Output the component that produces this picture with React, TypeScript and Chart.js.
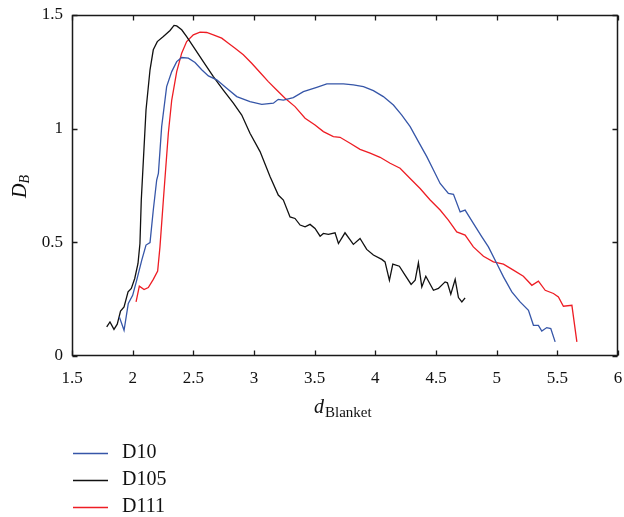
import React, { useEffect, useRef } from 'react';
import { Chart, registerables } from 'chart.js';

Chart.register(...registerables);

const xTicks = [1.5, 2, 2.5, 3, 3.5, 4, 4.5, 5, 5.5, 6];
const yTicks = [0, 0.5, 1, 1.5];
const seriesLabels = ['D10', 'D105', 'D111'];
const seriesColors = ['#3656a8', '#111111', '#ee1d24'];

const d10: [number, number][] = [
  [1.89, 0.172], [1.929, 0.113], [1.964, 0.231], [2.0, 0.267], [2.033, 0.333], [2.075, 0.422],
  [2.11, 0.488], [2.143, 0.499], [2.17, 0.642], [2.198, 0.774], [2.212, 0.803], [2.239, 1.009],
  [2.28, 1.185], [2.322, 1.251], [2.363, 1.295], [2.404, 1.313], [2.459, 1.31], [2.514, 1.291],
  [2.569, 1.259], [2.624, 1.232], [2.693, 1.215], [2.775, 1.178], [2.858, 1.141], [2.967, 1.119],
  [3.064, 1.107], [3.16, 1.112], [3.2, 1.129], [3.242, 1.126], [3.324, 1.137], [3.407, 1.163],
  [3.517, 1.182], [3.6, 1.197], [3.709, 1.197], [3.737, 1.197], [3.819, 1.193], [3.902, 1.185],
  [3.984, 1.167], [4.066, 1.141], [4.149, 1.104], [4.218, 1.06], [4.287, 1.009], [4.355, 0.943],
  [4.424, 0.877], [4.479, 0.818], [4.534, 0.759], [4.602, 0.715], [4.644, 0.711], [4.699, 0.634],
  [4.74, 0.642], [4.808, 0.583], [4.878, 0.524], [4.932, 0.48], [5.001, 0.407], [5.056, 0.348],
  [5.125, 0.282], [5.193, 0.238], [5.262, 0.201], [5.303, 0.135], [5.344, 0.135], [5.372, 0.11],
  [5.413, 0.125], [5.446, 0.121], [5.482, 0.062],
];

const d105: [number, number][] = [
  [1.786, 0.128], [1.813, 0.15], [1.846, 0.117], [1.873, 0.14], [1.9, 0.198], [1.929, 0.216],
  [1.962, 0.282], [1.989, 0.297], [2.017, 0.341], [2.044, 0.407], [2.06, 0.495], [2.071, 0.686],
  [2.11, 1.082], [2.143, 1.259], [2.17, 1.347], [2.203, 1.383], [2.253, 1.405], [2.308, 1.432],
  [2.341, 1.454], [2.363, 1.452], [2.404, 1.435], [2.445, 1.405], [2.5, 1.361], [2.582, 1.295],
  [2.665, 1.229], [2.747, 1.17], [2.83, 1.112], [2.899, 1.06], [2.967, 0.98], [3.05, 0.899],
  [3.132, 0.79], [3.2, 0.708], [3.242, 0.686], [3.297, 0.612], [3.338, 0.605], [3.38, 0.576],
  [3.421, 0.568], [3.462, 0.579], [3.503, 0.561], [3.545, 0.527], [3.572, 0.539], [3.613, 0.535],
  [3.668, 0.542], [3.696, 0.495], [3.75, 0.542], [3.819, 0.491], [3.874, 0.517], [3.929, 0.469],
  [3.984, 0.444], [4.053, 0.425], [4.08, 0.414], [4.116, 0.333], [4.144, 0.404], [4.198, 0.395],
  [4.245, 0.356], [4.295, 0.315], [4.328, 0.333], [4.355, 0.41], [4.383, 0.304], [4.416, 0.351],
  [4.479, 0.289], [4.52, 0.297], [4.575, 0.326], [4.594, 0.322], [4.622, 0.272], [4.658, 0.337],
  [4.685, 0.257], [4.713, 0.238], [4.74, 0.256],
];

const d111: [number, number][] = [
  [2.028, 0.238], [2.055, 0.307], [2.094, 0.292], [2.129, 0.301], [2.17, 0.337], [2.206, 0.374],
  [2.225, 0.48], [2.253, 0.686], [2.294, 0.98], [2.322, 1.126], [2.363, 1.251], [2.404, 1.332],
  [2.445, 1.383], [2.5, 1.413], [2.555, 1.425], [2.61, 1.423], [2.665, 1.413], [2.734, 1.398],
  [2.789, 1.376], [2.844, 1.354], [2.912, 1.325], [2.981, 1.288], [3.05, 1.247], [3.118, 1.207],
  [3.187, 1.17], [3.256, 1.134], [3.338, 1.097], [3.421, 1.046], [3.503, 1.016], [3.572, 0.987],
  [3.654, 0.965], [3.709, 0.962], [3.792, 0.936], [3.874, 0.909], [3.957, 0.892], [4.039, 0.874],
  [4.122, 0.848], [4.204, 0.826], [4.287, 0.781], [4.369, 0.737], [4.452, 0.686], [4.534, 0.642],
  [4.602, 0.598], [4.671, 0.546], [4.74, 0.532], [4.808, 0.48], [4.891, 0.439], [4.973, 0.414],
  [5.056, 0.404], [5.138, 0.378], [5.22, 0.351], [5.29, 0.311], [5.344, 0.329], [5.4, 0.289],
  [5.468, 0.275], [5.509, 0.26], [5.55, 0.219], [5.62, 0.223], [5.661, 0.062],
];

const seriesData = [d10, d105, d111];

const FONT = '"Liberation Serif", "Times New Roman", serif';
const TEXT = '#111111';

const framePlugin = {
  id: 'framePlugin',
  afterDraw(chart: any) {
    const { ctx, chartArea: a, scales } = chart;
    ctx.save();
    ctx.setLineDash([]);
    ctx.globalAlpha = 1;
    ctx.strokeStyle = '#1a1a1a';
    ctx.lineWidth = 1.5;
    const L = Math.round(a.left) + 0.5;
    const R = Math.round(a.right) - 0.5;
    const T = Math.round(a.top) + 0.5;
    const B = Math.round(a.bottom) - 0.5;
    ctx.beginPath();
    ctx.moveTo(L, T);
    ctx.lineTo(R, T);
    ctx.lineTo(R, B);
    ctx.lineTo(L, B);
    ctx.closePath();
    ctx.stroke();
    const tl = 5;
    ctx.lineWidth = 1.3;
    ctx.beginPath();
    xTicks.forEach((v) => {
      const px = Math.round(scales.x.getPixelForValue(v)) + 0.5;
      ctx.moveTo(px, B);
      ctx.lineTo(px, B - tl);
      ctx.moveTo(px, T);
      ctx.lineTo(px, T + tl);
    });
    yTicks.forEach((v) => {
      const py = Math.round(scales.y.getPixelForValue(v)) + 0.5;
      ctx.moveTo(L, py);
      ctx.lineTo(L + tl, py);
      ctx.moveTo(R, py);
      ctx.lineTo(R - tl, py);
    });
    ctx.stroke();

    // x-axis title: d_Blanket
    ctx.fillStyle = TEXT;
    ctx.textAlign = 'left';
    ctx.textBaseline = 'alphabetic';
    ctx.font = `italic 20px ${FONT}`;
    const xd = 314;
    ctx.fillText('d', xd, 413);
    const dw = ctx.measureText('d').width;
    ctx.font = `15px ${FONT}`;
    ctx.fillText('Blanket', xd + dw + 1, 417);

    // y-axis title: D_B rotated
    ctx.save();
    ctx.translate(26, 198);
    ctx.rotate(-Math.PI / 2);
    ctx.font = `italic 20px ${FONT}`;
    ctx.fillText('D', 0, 0);
    const Dw = ctx.measureText('D').width;
    ctx.font = `italic 14px ${FONT}`;
    ctx.fillText('B', Dw, 3);
    ctx.restore();

    // legend
    const ly = [453, 480, 507];
    ctx.font = `20px ${FONT}`;
    ctx.textBaseline = 'middle';
    seriesLabels.forEach((lab, i) => {
      ctx.strokeStyle = seriesColors[i];
      ctx.lineWidth = 1.3;
      ctx.beginPath();
      ctx.moveTo(73, ly[i] + 0.5);
      ctx.lineTo(108, ly[i] + 0.5);
      ctx.stroke();
      ctx.fillStyle = TEXT;
      ctx.fillText(lab, 122, ly[i]);
    });
    ctx.restore();
  },
};

const killPad = (s: any) => {
  s.paddingTop = 0;
  s.paddingBottom = 0;
  s.paddingLeft = 0;
  s.paddingRight = 0;
};

export default function App() {
  const ref = useRef<HTMLCanvasElement | null>(null);
  useEffect(() => {
    document.body.style.margin = '0';
    const canvas = ref.current;
    if (!canvas) return;
    const chart = new Chart(canvas, {
      type: 'line',
      data: {
        datasets: seriesLabels.map((lab, i) => ({
          label: lab,
          data: seriesData[i].map(([x, y]) => ({ x, y })),
          borderColor: seriesColors[i],
          backgroundColor: seriesColors[i],
          borderWidth: 1.3,
          pointRadius: 0,
          tension: 0,
          fill: false,
        })),
      },
      options: {
        responsive: false,
        animation: false,
        devicePixelRatio: 1,
        layout: { padding: { top: 15, right: 6, left: 0, bottom: 0 } },
        plugins: { legend: { display: false }, tooltip: { enabled: false } },
        scales: {
          x: {
            type: 'linear',
            min: 1.5,
            max: 6,
            ticks: {
              stepSize: 0.5,
              font: { family: FONT, size: 17 },
              color: TEXT,
              padding: 12,
              maxRotation: 0,
              autoSkip: false,
              callback: (v: any) => String(v),
            },
            grid: { display: false, drawTicks: false },
            border: { display: false },
            afterFit: (s: any) => {
              s.height = 161;
              killPad(s);
            },
          },
          y: {
            type: 'linear',
            min: 0,
            max: 1.5,
            ticks: {
              stepSize: 0.5,
              font: { family: FONT, size: 17 },
              color: TEXT,
              padding: 9,
              callback: (v: any) => String(v),
            },
            grid: { display: false, drawTicks: false },
            border: { display: false },
            afterFit: (s: any) => {
              s.width = 72;
              killPad(s);
            },
          },
        },
      },
      plugins: [framePlugin],
    } as any);
    return () => chart.destroy();
  }, []);
  return (
    <div style={{ width: 624, height: 517 }}>
      <canvas ref={ref} width={624} height={517} style={{ display: 'block' }} />
    </div>
  );
}
